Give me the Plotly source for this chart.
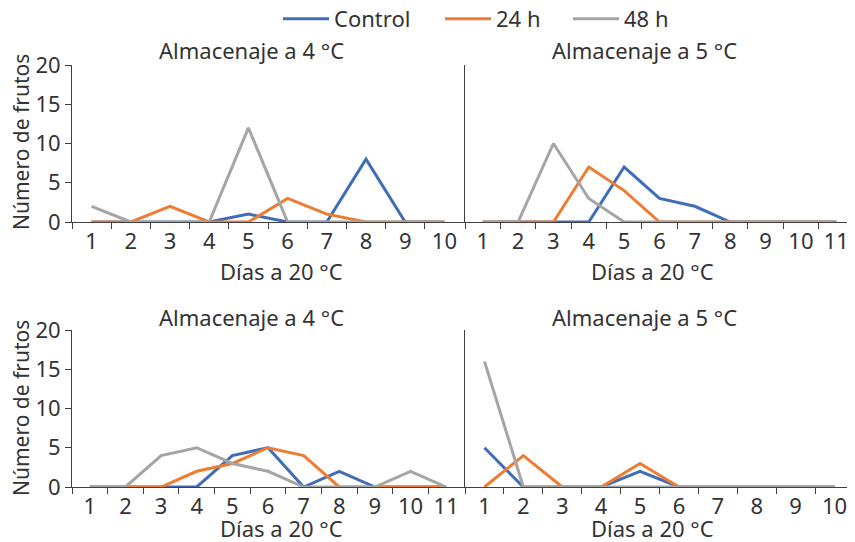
import plotly.graph_objects as go

dias_10 = [str(d) for d in range(1, 11)]
dias_11 = [str(d) for d in range(1, 12)]

series_names = ['Control', '24 h', '48 h']
colours = {'Control': '#3F6EB7', '24 h': '#EE7D31', '48 h': '#A5A5A5'}

# top left: Almacenaje a 4 °C
tl_control = [0, 0, 0, 0, 1, 0, 0, 8, 0, 0]
tl_24h = [0, 0, 2, 0, 0, 3, 1, 0, 0, 0]
tl_48h = [2, 0, 0, 0, 12, 0, 0, 0, 0, 0]

# top right: Almacenaje a 5 °C
tr_control = [0, 0, 0, 0, 7, 3, 2, 0, 0, 0, 0]
tr_24h = [0, 0, 0, 7, 4, 0, 0, 0, 0, 0, 0]
tr_48h = [0, 0, 10, 3, 0, 0, 0, 0, 0, 0, 0]

# bottom left: Almacenaje a 4 °C
bl_control = [0, 0, 0, 0, 4, 5, 0, 2, 0, 0, 0]
bl_24h = [0, 0, 0, 2, 3, 5, 4, 0, 0, 0, 0]
bl_48h = [0, 0, 4, 5, 3, 2, 0, 0, 0, 2, 0]

# bottom right: Almacenaje a 5 °C
br_control = [5, 0, 0, 0, 2, 0, 0, 0, 0, 0]
br_24h = [0, 4, 0, 0, 3, 0, 0, 0, 0, 0]
br_48h = [16, 0, 0, 0, 0, 0, 0, 0, 0, 0]

panels = [
    ('x', 'y', dias_10, [tl_control, tl_24h, tl_48h]),
    ('x2', 'y2', dias_11, [tr_control, tr_24h, tr_48h]),
    ('x3', 'y3', dias_11, [bl_control, bl_24h, bl_48h]),
    ('x4', 'y4', dias_10, [br_control, br_24h, br_48h]),
]

# page is 855x542 but the body has an 8px margin, so work in page pixels and shift
OFF = 8
W, H = 855 - OFF, 542 - OFF
TEXT = '#333333'
AXIS = '#404040'
FONT = 'Noto Sans'
FS = 22

# one legend per series so each entry can sit where the reference puts it
legend_ids = {'Control': 'legend', '24 h': 'legend2', '48 h': 'legend3'}
legend_left = {'legend': 278, 'legend2': 440, 'legend3': 568}

fig = go.Figure()
for i, (xa, ya, dias, values) in enumerate(panels):
    for name, vals in zip(series_names, values):
        fig.add_trace(go.Scatter(x=dias, y=vals, xaxis=xa, yaxis=ya, name=name, mode='lines',
                                 legendgroup=name, legend=legend_ids[name], showlegend=(i == 0),
                                 cliponaxis=False, line=dict(color=colours[name], width=3)))

def px_x(p):
    return (p - OFF) / W

def px_y(p):
    return 1 - (p - OFF) / H

left_dom = [px_x(72), px_x(464)]
right_dom = [px_x(465), min(1, px_x(854))]
top_dom = [px_y(222), px_y(65)]
bottom_dom = [px_y(487), px_y(330)]

layout = dict(width=W, height=H, margin=dict(l=0, r=0, t=0, b=0, autoexpand=False),
              plot_bgcolor='white', paper_bgcolor='white',
              font=dict(family=FONT, size=FS, color=TEXT))
for lid, left in legend_left.items():
    layout[lid] = dict(orientation='h', x=px_x(left), xanchor='left', y=px_y(-2), yanchor='top',
                       font=dict(size=FS, color=TEXT), itemwidth=46, bgcolor='rgba(0,0,0,0)')

xdoms = {'x': left_dom, 'x2': right_dom, 'x3': left_dom, 'x4': right_dom}
ydoms = {'y': top_dom, 'y2': top_dom, 'y3': bottom_dom, 'y4': bottom_dom}
for (xa, ya, dias, _) in panels:
    xkey = 'xaxis' + xa[1:]
    ykey = 'yaxis' + ya[1:]
    layout[xkey] = dict(domain=xdoms[xa], anchor=ya, type='category', range=[-0.5, len(dias) - 0.5],
                        tickson='boundaries', ticks='outside', ticklen=6, tickcolor=AXIS,
                        showline=True, linecolor=AXIS, linewidth=1, showgrid=False,
                        layer='below traces', tickfont=dict(size=FS, color=TEXT))
    is_left = xa in ('x', 'x3')
    layout[ykey] = dict(domain=ydoms[ya], anchor=xa, range=[0, 20], dtick=5,
                        showline=True, linecolor=AXIS, linewidth=1, showgrid=False, zeroline=False,
                        ticks='outside' if is_left else '', ticklen=6, tickcolor=AXIS,
                        showticklabels=is_left, layer='below traces',
                        tickfont=dict(size=FS, color=TEXT))

fig.update_layout(**layout)

titles = [
    ('Almacenaje a 4 °C', 251, 50),
    ('Almacenaje a 5 °C', 644, 50),
    ('Almacenaje a 4 °C', 251, 317),
    ('Almacenaje a 5 °C', 644, 317),
]
for text, cx, cy in titles:
    fig.add_annotation(text=text, x=px_x(cx), y=px_y(cy), xref='paper', yref='paper',
                       showarrow=False, xanchor='center', yanchor='middle', font=dict(size=FS, color=TEXT))

for cx, cy in [(281, 271), (652, 271), (281, 528), (652, 528)]:
    fig.add_annotation(text='Días a 20 °C', x=px_x(cx), y=px_y(cy), xref='paper', yref='paper',
                       showarrow=False, xanchor='center', yanchor='middle', font=dict(size=FS, color=TEXT))

for cy in [142, 408]:
    fig.add_annotation(text='Número de frutos', x=px_x(21), y=px_y(cy), xref='paper', yref='paper',
                       showarrow=False, textangle=-90, xanchor='center', yanchor='middle',
                       font=dict(size=21, color=TEXT))

fig.write_html("out.html")
